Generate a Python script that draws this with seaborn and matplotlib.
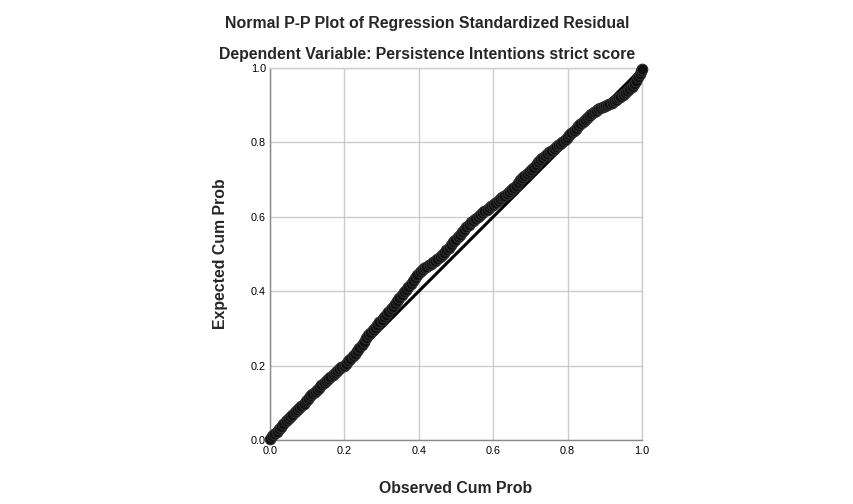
import numpy as np
import pandas as pd
import matplotlib
matplotlib.use('Agg')
import matplotlib.pyplot as plt
import seaborn as sns

# observed vs expected cumulative probabilities
observed = [0.000, 0.006, 0.012, 0.018, 0.024, 0.030, 0.036, 0.042, 0.048, 0.054,
            0.060, 0.066, 0.072, 0.078, 0.084, 0.090, 0.096, 0.102, 0.108, 0.114,
            0.120, 0.126, 0.132, 0.138, 0.144, 0.150, 0.156, 0.162, 0.168, 0.174,
            0.180, 0.186, 0.192, 0.198, 0.204, 0.210, 0.216, 0.222, 0.228, 0.234,
            0.240, 0.246, 0.252, 0.258, 0.264, 0.270, 0.276, 0.282, 0.288, 0.294,
            0.300, 0.306, 0.312, 0.318, 0.324, 0.330, 0.336, 0.342, 0.348, 0.354,
            0.360, 0.366, 0.372, 0.378, 0.384, 0.390, 0.396, 0.402, 0.408, 0.414,
            0.420, 0.426, 0.432, 0.438, 0.444, 0.450, 0.456, 0.462, 0.468, 0.474,
            0.480, 0.486, 0.492, 0.498, 0.504, 0.510, 0.516, 0.522, 0.528, 0.534,
            0.540, 0.546, 0.552, 0.558, 0.564, 0.570, 0.576, 0.582, 0.588, 0.594,
            0.600, 0.606, 0.612, 0.618, 0.624, 0.630, 0.636, 0.642, 0.648, 0.654,
            0.660, 0.666, 0.672, 0.678, 0.684, 0.690, 0.696, 0.702, 0.708, 0.714,
            0.720, 0.726, 0.732, 0.738, 0.744, 0.750, 0.756, 0.762, 0.768, 0.774,
            0.780, 0.786, 0.792, 0.798, 0.804, 0.810, 0.816, 0.822, 0.828, 0.834,
            0.840, 0.846, 0.852, 0.858, 0.864, 0.870, 0.876, 0.882, 0.888, 0.894,
            0.900, 0.906, 0.912, 0.918, 0.924, 0.930, 0.936, 0.942, 0.948, 0.954,
            0.960, 0.966, 0.972, 0.978, 0.984, 0.990, 0.995, 0.998, 1.000]
expected = [0.004, 0.010, 0.016, 0.022, 0.029, 0.036, 0.043, 0.050, 0.056, 0.062,
            0.068, 0.074, 0.080, 0.086, 0.092, 0.098, 0.104, 0.110, 0.117, 0.123,
            0.129, 0.135, 0.141, 0.147, 0.153, 0.159, 0.165, 0.170, 0.175, 0.180,
            0.185, 0.190, 0.195, 0.200, 0.205, 0.211, 0.218, 0.225, 0.232, 0.240,
            0.248, 0.256, 0.264, 0.273, 0.281, 0.288, 0.295, 0.302, 0.309, 0.316,
            0.323, 0.330, 0.337, 0.344, 0.351, 0.358, 0.365, 0.373, 0.381, 0.389,
            0.397, 0.404, 0.412, 0.420, 0.428, 0.436, 0.444, 0.451, 0.457, 0.462,
            0.466, 0.470, 0.474, 0.478, 0.482, 0.487, 0.492, 0.497, 0.503, 0.510,
            0.517, 0.524, 0.531, 0.538, 0.545, 0.552, 0.559, 0.565, 0.572, 0.579,
            0.585, 0.590, 0.595, 0.600, 0.605, 0.610, 0.615, 0.619, 0.623, 0.628,
            0.632, 0.637, 0.642, 0.647, 0.652, 0.657, 0.662, 0.667, 0.672, 0.677,
            0.682, 0.690, 0.700, 0.705, 0.710, 0.715, 0.720, 0.726, 0.732, 0.739,
            0.746, 0.752, 0.759, 0.764, 0.769, 0.774, 0.778, 0.783, 0.787, 0.792,
            0.797, 0.802, 0.807, 0.813, 0.819, 0.825, 0.831, 0.837, 0.844, 0.850,
            0.855, 0.860, 0.866, 0.871, 0.876, 0.881, 0.885, 0.889, 0.892, 0.894,
            0.897, 0.900, 0.903, 0.906, 0.910, 0.914, 0.918, 0.923, 0.928, 0.933,
            0.938, 0.943, 0.950, 0.957, 0.965, 0.975, 0.985, 0.993, 0.998]
ref_line = [0.0, 1.0]
ticks = [0.0, 0.2, 0.4, 0.6, 0.8, 1.0]

df = pd.DataFrame({'observed': observed, 'expected': expected})

sns.set_theme(style='whitegrid')
plt.rcParams['font.family'] = ['Liberation Sans', 'DejaVu Sans']

fig = plt.figure(figsize=(8.54, 5.04), dpi=100)
ax = fig.add_axes([0.3162, 0.1270, 0.4356, 0.7381])
ax.set_facecolor('white')

# diagonal reference line
sns.lineplot(x=ref_line, y=ref_line, color='black', linewidth=2.2, ax=ax)
sns.scatterplot(data=df, x='observed', y='expected', s=58, marker='o',
                facecolor='#101010', edgecolor='#2e2e2e', linewidth=0.8,
                ax=ax, zorder=3, clip_on=False)

ax.set_xlim(0, 1)
ax.set_ylim(0, 1)
ax.set_xticks(ticks)
ax.set_yticks(ticks)
ax.set_xticklabels([f'{t:.1f}' for t in ticks])
ax.set_yticklabels([f'{t:.1f}' for t in ticks])
ax.tick_params(axis='both', length=0, labelsize=7.8, colors='black')
ax.tick_params(axis='x', pad=4)
ax.tick_params(axis='y', pad=3)
ax.grid(True, color='#cccccc', linewidth=1.0)

for side in ['top', 'right']:
    ax.spines[side].set_color('#cccccc')
    ax.spines[side].set_linewidth(1.0)
for side in ['left', 'bottom']:
    ax.spines[side].set_color('#888888')
    ax.spines[side].set_linewidth(1.0)

ax.set_xlabel('Observed Cum Prob', fontsize=11.4, fontweight='bold')
ax.set_ylabel('Expected Cum Prob', fontsize=11.4, fontweight='bold')
ax.xaxis.set_label_coords(0.5, -0.110)
ax.yaxis.set_label_coords(-0.113, 0.5)

fig.text(0.5, 0.954, 'Normal P-P Plot of Regression Standardized Residual',
         ha='center', va='center', fontsize=11.4, fontweight='bold')
fig.text(0.5, 0.891, 'Dependent Variable: Persistence Intentions strict score',
         ha='center', va='center', fontsize=11.4, fontweight='bold')

fig.savefig('out.png', dpi=100, facecolor='white')
